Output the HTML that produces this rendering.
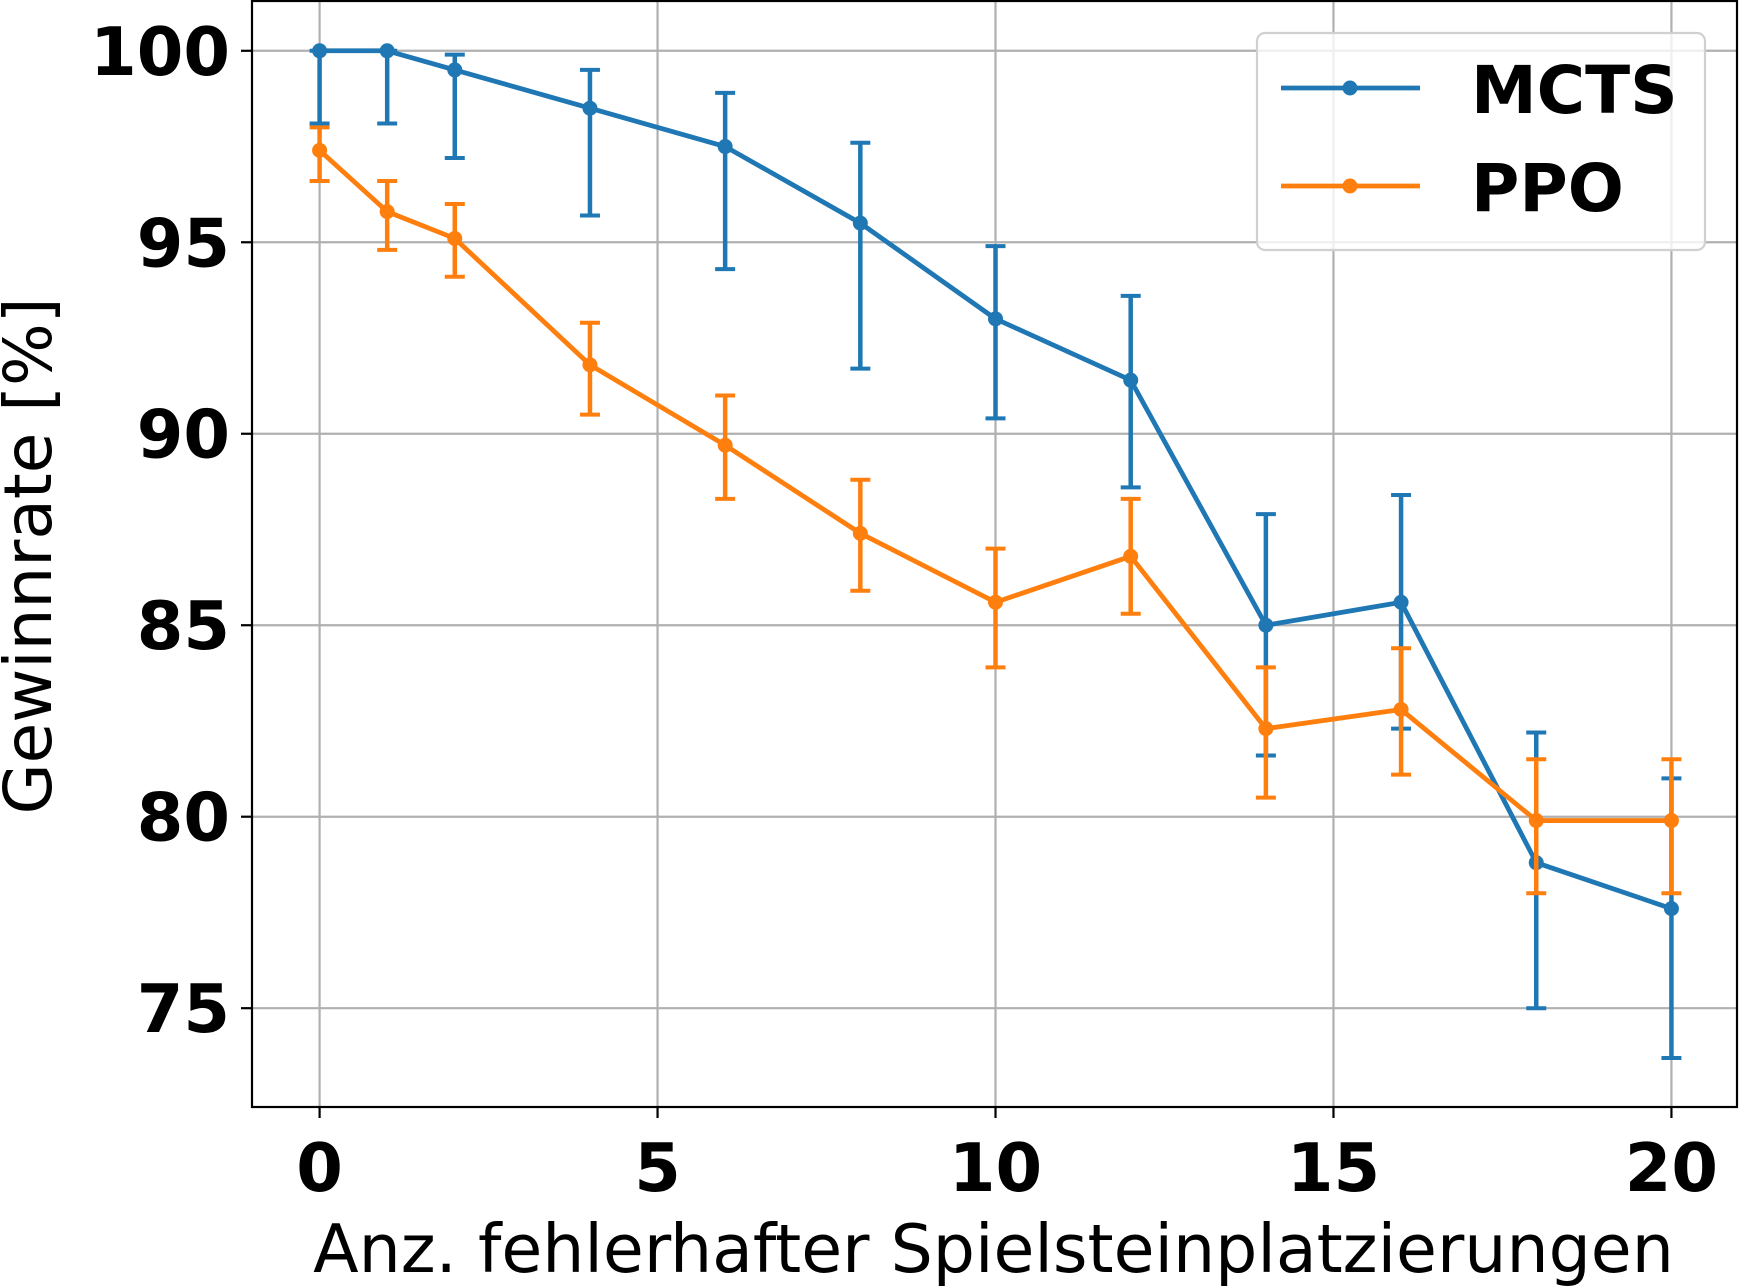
<!DOCTYPE html>
<html><head><meta charset="utf-8"><style>
html,body{margin:0;padding:0;background:#fff;}
svg{display:block;font-family:"DejaVu Sans","Liberation Sans",sans-serif;}
</style></head><body>
<svg id="chart" width="1739" height="1286" viewBox="0 0 1739 1286" xmlns="http://www.w3.org/2000/svg"></svg>
<script>
const xValues = [0,1,2,4,6,8,10,12,14,16,18,20];
const mctsY = [100,100,99.5,98.5,97.5,95.5,93,91.4,85,85.6,78.8,77.6];
const mctsLo = [98.1,98.1,97.2,95.7,94.3,91.7,90.4,88.6,81.6,82.3,75.0,73.7];
const mctsHi = [100,100,99.9,99.5,98.9,97.6,94.9,93.6,87.9,88.4,82.2,81.0];
const ppoY = [97.4,95.8,95.1,91.8,89.7,87.4,85.6,86.8,82.3,82.8,79.9,79.9];
const ppoLo = [96.6,94.8,94.1,90.5,88.3,85.9,83.9,85.3,80.5,81.1,78.0,78.0];
const ppoHi = [98.0,96.6,96.0,92.9,91.0,88.8,87.0,88.3,83.9,84.4,81.5,81.5];
const xTicks = [0,5,10,15,20];
const yTicks = [75,80,85,90,95,100];

const NS="http://www.w3.org/2000/svg";
const svg=document.getElementById('chart');
const L=252,R=1737,T=1,B=1107;
const xMin=-1,xMax=20.97,yMin=72.42,yMax=101.3;
const sx=v=>L+(v-xMin)/(xMax-xMin)*(R-L);
const sy=v=>B-(v-yMin)/(yMax-yMin)*(B-T);
function mk(tag,attrs,parent){const e=document.createElementNS(NS,tag);for(const k in attrs)e.setAttribute(k,attrs[k]);(parent||svg).appendChild(e);return e;}

const grid=mk('g',{});


xTicks.forEach(t=>{
  const l=mk('line',{x1:sx(t),x2:sx(t),y1:T,y2:B,stroke:'#b0b0b0','stroke-width':2.2},grid);
  
  
  const tk=mk('line',{x1:sx(t),x2:sx(t),y1:B,y2:B+11,stroke:'#000','stroke-width':2.2});
  
  
  const tx=mk('text',{x:sx(t),y:1191,'text-anchor':'middle','font-size':67,'font-weight':'bold'});
  tx.textContent=t;
  
  
});
yTicks.forEach(t=>{
  const l=mk('line',{x1:L,x2:R,y1:sy(t),y2:sy(t),stroke:'#b0b0b0','stroke-width':2.2},grid);
  
  
  const tk=mk('line',{x1:L-11,x2:L,y1:sy(t),y2:sy(t),stroke:'#000','stroke-width':2.2});
  
  
  const tx=mk('text',{x:L-22,y:sy(t)+24,'text-anchor':'end','font-size':67,'font-weight':'bold'});
  tx.textContent=t;
  
  
});

function series(name,color,ys,lo,hi){
  const g=mk('g',{});
  
  
  xValues.forEach((x,i)=>{
    const e=mk('line',{x1:sx(x),x2:sx(x),y1:sy(lo[i]),y2:sy(hi[i]),stroke:color,'stroke-width':4.5},g);
    
    
    [lo[i],hi[i]].forEach(v=>{
      const c=mk('line',{x1:sx(x)-10,x2:sx(x)+10,y1:sy(v),y2:sy(v),stroke:color,'stroke-width':4},g);
      
      
    });
  });
  const p=mk('polyline',{points:xValues.map((x,i)=>sx(x)+','+sy(ys[i])).join(' '),fill:'none',stroke:color,'stroke-width':4.8,'stroke-linejoin':'round'},g);
  
  
  xValues.forEach((x,i)=>{
    const c=mk('circle',{cx:sx(x),cy:sy(ys[i]),r:7.5,fill:color},g);
    
    
  });
}
series('mcts','#1f77b4',mctsY,mctsLo,mctsHi);
series('ppo','#ff7f0e',ppoY,ppoLo,ppoHi);

const frame=mk('rect',{x:L,y:T,width:R-L,height:B-T,fill:'none',stroke:'#000','stroke-width':2.2});



const lg=mk('g',{});


const lb=mk('rect',{x:1257,y:33,width:448,height:217,rx:8,fill:'rgba(255,255,255,0.8)',stroke:'#d0d0d0','stroke-width':2.2},lg);


[['MCTS','#1f77b4',88],['PPO','#ff7f0e',186]].forEach(([n,c,y])=>{
  const e=mk('g',{},lg);
  
  
  mk('line',{x1:1281,x2:1420,y1:y,y2:y,stroke:c,'stroke-width':4.8},e);
  mk('circle',{cx:1350,cy:y,r:7.5,fill:c},e);
  const t=mk('text',{x:1471,y:y+25,'font-size':66,'font-weight':'bold'},e);
  t.textContent=n;
});

const xl=mk('text',{x:(L+R)/2-1,y:1272,'text-anchor':'middle','font-size':66.5});
xl.textContent='Anz. fehlerhafter Spielsteinplatzierungen';


const yl=mk('text',{x:0,y:0,'text-anchor':'middle','font-size':66,transform:'translate(51,556) rotate(-90)'});
yl.textContent='Gewinnrate [%]';


</script>
</body></html>
